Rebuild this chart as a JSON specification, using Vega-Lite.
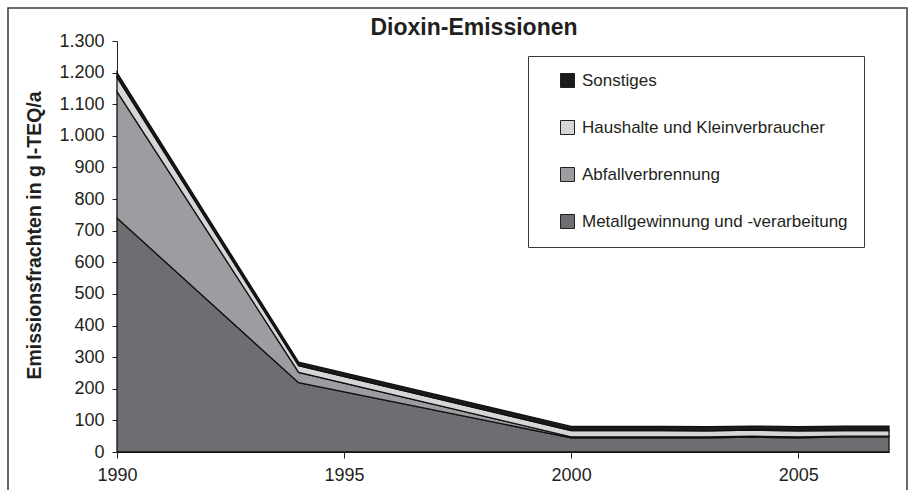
{
  "$schema": "https://vega.github.io/schema/vega-lite/v6.json",
  "autosize": "none",
  "width": 772,
  "height": 411,
  "padding": {"left": 117, "top": 41, "right": 23, "bottom": 38},
  "background": "white",
  "config": {
    "locale": {"number": {"decimal": ",", "thousands": ".", "grouping": [3], "currency": ["", " €"]}},
    "font": "Liberation Sans",
    "view": {"stroke": null},
    "axis": {"labelFont": "Liberation Sans", "titleFont": "Liberation Sans", "labelColor": "#231f20", "domainColor": "#231f20", "tickColor": "#231f20", "grid": false}
  },
  "title": {"text": "Dioxin-Emissionen", "fontSize": 23, "fontWeight": "bold", "font": "Liberation Sans", "color": "#231f20", "anchor": "middle", "frame": "group", "dx": -29, "dy": 39, "offset": 6},
  "data": {"values": [
    {"Jahr": 1990, "Quelle": "Metallgewinnung und -verarbeitung", "Wert": 740},
    {"Jahr": 1994, "Quelle": "Metallgewinnung und -verarbeitung", "Wert": 219},
    {"Jahr": 2000, "Quelle": "Metallgewinnung und -verarbeitung", "Wert": 45},
    {"Jahr": 2001, "Quelle": "Metallgewinnung und -verarbeitung", "Wert": 45},
    {"Jahr": 2002, "Quelle": "Metallgewinnung und -verarbeitung", "Wert": 45},
    {"Jahr": 2003, "Quelle": "Metallgewinnung und -verarbeitung", "Wert": 45},
    {"Jahr": 2004, "Quelle": "Metallgewinnung und -verarbeitung", "Wert": 47},
    {"Jahr": 2005, "Quelle": "Metallgewinnung und -verarbeitung", "Wert": 45},
    {"Jahr": 2006, "Quelle": "Metallgewinnung und -verarbeitung", "Wert": 48},
    {"Jahr": 2007, "Quelle": "Metallgewinnung und -verarbeitung", "Wert": 48},
    {"Jahr": 1990, "Quelle": "Abfallverbrennung", "Wert": 400},
    {"Jahr": 1994, "Quelle": "Abfallverbrennung", "Wert": 33},
    {"Jahr": 2000, "Quelle": "Abfallverbrennung", "Wert": 3},
    {"Jahr": 2001, "Quelle": "Abfallverbrennung", "Wert": 3},
    {"Jahr": 2002, "Quelle": "Abfallverbrennung", "Wert": 3},
    {"Jahr": 2003, "Quelle": "Abfallverbrennung", "Wert": 3},
    {"Jahr": 2004, "Quelle": "Abfallverbrennung", "Wert": 3},
    {"Jahr": 2005, "Quelle": "Abfallverbrennung", "Wert": 3},
    {"Jahr": 2006, "Quelle": "Abfallverbrennung", "Wert": 2},
    {"Jahr": 2007, "Quelle": "Abfallverbrennung", "Wert": 2},
    {"Jahr": 1990, "Quelle": "Haushalte und Kleinverbraucher", "Wert": 45},
    {"Jahr": 1994, "Quelle": "Haushalte und Kleinverbraucher", "Wert": 21},
    {"Jahr": 2000, "Quelle": "Haushalte und Kleinverbraucher", "Wert": 20},
    {"Jahr": 2001, "Quelle": "Haushalte und Kleinverbraucher", "Wert": 20},
    {"Jahr": 2002, "Quelle": "Haushalte und Kleinverbraucher", "Wert": 20},
    {"Jahr": 2003, "Quelle": "Haushalte und Kleinverbraucher", "Wert": 19},
    {"Jahr": 2004, "Quelle": "Haushalte und Kleinverbraucher", "Wert": 19},
    {"Jahr": 2005, "Quelle": "Haushalte und Kleinverbraucher", "Wert": 19},
    {"Jahr": 2006, "Quelle": "Haushalte und Kleinverbraucher", "Wert": 18},
    {"Jahr": 2007, "Quelle": "Haushalte und Kleinverbraucher", "Wert": 18},
    {"Jahr": 1990, "Quelle": "Sonstiges", "Wert": 15},
    {"Jahr": 1994, "Quelle": "Sonstiges", "Wert": 11},
    {"Jahr": 2000, "Quelle": "Sonstiges", "Wert": 13},
    {"Jahr": 2001, "Quelle": "Sonstiges", "Wert": 13},
    {"Jahr": 2002, "Quelle": "Sonstiges", "Wert": 13},
    {"Jahr": 2003, "Quelle": "Sonstiges", "Wert": 13},
    {"Jahr": 2004, "Quelle": "Sonstiges", "Wert": 13},
    {"Jahr": 2005, "Quelle": "Sonstiges", "Wert": 13},
    {"Jahr": 2006, "Quelle": "Sonstiges", "Wert": 14},
    {"Jahr": 2007, "Quelle": "Sonstiges", "Wert": 14}
  ]},
  "layer": [
    {
      "mark": {"type": "rect", "fill": null, "stroke": "#3a3a3a", "strokeWidth": 1.5, "clip": false},
      "data": {"values": [{}]},
      "encoding": {
        "x": {"value": -109},
        "x2": {"value": 790},
        "y": {"value": -33},
        "y2": {"value": 470}
      }
    },
    {
      "transform": [
        {"calculate": "indexof(['Metallgewinnung und -verarbeitung', 'Abfallverbrennung', 'Haushalte und Kleinverbraucher', 'Sonstiges'], datum.Quelle)", "as": "Reihenfolge"}
      ],
      "mark": {"type": "area", "stroke": "#111111", "strokeWidth": 1.3, "interpolate": "linear"},
      "encoding": {
        "x": {"field": "Jahr", "type": "quantitative", "scale": {"domain": [1990, 2007], "nice": false, "zero": false},
          "axis": {"values": [1990, 1995, 2000, 2005], "format": "d", "title": null, "labelFontSize": 18, "tickSize": 6, "labelPadding": 8, "labelFlush": false}},
        "y": {"field": "Wert", "type": "quantitative", "stack": "zero", "scale": {"domain": [0, 1300], "nice": false},
          "axis": {"values": [0,100,200,300,400,500,600,700,800,900,1000,1100,1200,1300], "format": ",.0f", "labelFontSize": 18, "tickSize": 5, "labelPadding": 8,
            "title": "Emissionsfrachten in g I-TEQ/a", "titleFontSize": 19.5, "titleFontWeight": "bold", "titleColor": "#231f20", "titleX": -83, "titleY": 194, "titleAngle": -90, "titleAlign": "center", "titleBaseline": "middle"}},
        "color": {"field": "Quelle", "type": "nominal",
          "scale": {"domain": ["Metallgewinnung und -verarbeitung", "Abfallverbrennung", "Haushalte und Kleinverbraucher", "Sonstiges"],
            "range": ["#6d6e71", "#9c9da0", "#d5d6d8", "#1c1a1b"]},
          "legend": {"values": ["Sonstiges", "Haushalte und Kleinverbraucher", "Abfallverbrennung", "Metallgewinnung und -verarbeitung"],
            "title": null, "orient": "none", "legendX": 411, "legendY": 15, "direction": "vertical",
            "symbolType": "square", "symbolSize": 196, "symbolStrokeColor": "#231f20", "symbolStrokeWidth": 1, "symbolOpacity": 1,
            "labelFontSize": 17, "labelColor": "#231f20", "labelFont": "Liberation Sans", "labelOffset": 6, "labelLimit": 500,
            "labelExpr": "datum.label + '\u2003\u2009'",
            "rowPadding": 28, "padding": 16, "symbolOffset": 15,
            "strokeColor": "#3a3a3a", "fillColor": "white"}},
        "order": {"field": "Reihenfolge", "type": "quantitative", "sort": "ascending"}
      }
    }
  ]
}
